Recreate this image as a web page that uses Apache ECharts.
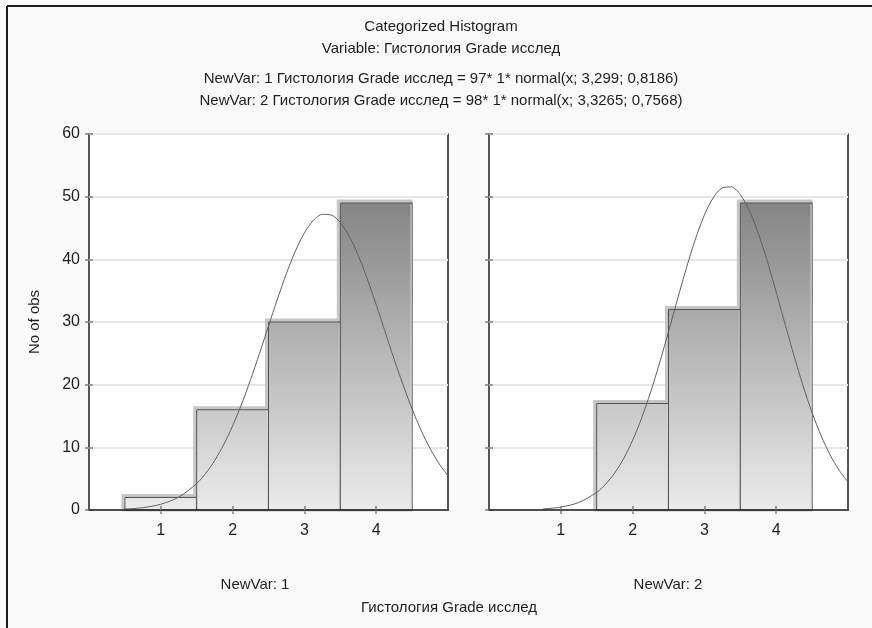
<!DOCTYPE html>
<html>
<head>
<meta charset="utf-8">
<script src="https://cdn.jsdelivr.net/npm/echarts@6/dist/echarts.min.js"></script>
<style>
html,body{margin:0;padding:0;background:#fafafa;}
#c{width:872px;height:628px;}
</style>
</head>
<body>
<div id="c"></div>
<script>
// ---- Data ----
const categories = [1, 2, 3, 4];
const countsVar1 = [2, 16, 30, 49];
const countsVar2 = [0, 17, 32, 49];
const yTicks = [0, 10, 20, 30, 40, 50, 60];
// fitted normal curves (x positions and heights)
const curveX1 = [0.5, 0.75, 1, 1.25, 1.5, 1.625, 1.75, 1.875, 2, 2.125, 2.25, 2.375, 2.5, 2.625, 2.75, 2.875, 3, 3.125, 3.25, 3.375, 3.5, 3.625, 3.75, 3.875, 4, 4.125, 4.25, 4.375, 4.5, 4.625, 4.75, 4.875, 5];
const curveY1 = [0.14, 0.37, 0.92, 2.06, 4.22, 5.84, 7.89, 10.41, 13.42, 16.9, 20.8, 25.0, 29.36, 33.68, 37.75, 41.33, 44.22, 46.22, 47.18, 47.07, 45.87, 43.67, 40.61, 36.9, 32.76, 28.41, 24.07, 19.93, 16.11, 12.73, 9.83, 7.41, 5.46];
const curveX2 = [0.75, 1, 1.25, 1.5, 1.625, 1.75, 1.875, 2, 2.125, 2.25, 2.375, 2.5, 2.625, 2.75, 2.875, 3, 3.125, 3.25, 3.375, 3.5, 3.625, 3.75, 3.875, 4, 4.125, 4.25, 4.375, 4.5, 4.625, 4.75, 4.875, 5];
const curveY2 = [0.16, 0.46, 1.2, 2.81, 4.13, 5.9, 8.21, 11.12, 14.65, 18.78, 23.44, 28.45, 33.62, 38.65, 43.24, 47.07, 49.86, 51.4, 51.55, 50.32, 47.79, 44.17, 39.73, 34.77, 29.61, 24.54, 19.79, 15.53, 11.86, 8.81, 6.37, 4.48];
const titleLines = [
  'Categorized Histogram',
  'Variable: Гистология Grade исслед',
  'NewVar: 1 Гистология Grade исслед = 97* 1* normal(x; 3,299; 0,8186)',
  'NewVar: 2 Гистология Grade исслед = 98* 1* normal(x; 3,3265; 0,7568)'
];
const panelNames = ['NewVar: 1', 'NewVar: 2'];
const xAxisTitle = 'Гистология Grade исслед';
const yAxisTitle = 'No of obs';

// ---- Chart ----
const FONT = '"Liberation Sans", Arial, sans-serif';
const chart = echarts.init(document.getElementById('c'), null, {renderer: 'canvas'});

function barPairs(vals) { return categories.map((c, i) => [c, vals[i]]); }
function curvePairs(xs, ys) { return xs.map((x, i) => [x, ys[i]]); }

function haloItem(params, api) {
  const x = api.value(0), y = api.value(1);
  if (!y) return null;
  const p0 = api.coord([x - 0.5, y]);
  const p1 = api.coord([x + 0.5, 0]);
  return {
    type: 'rect',
    shape: {x: p0[0] - 2, y: p0[1] - 2, width: p1[0] - p0[0] + 1, height: p1[1] - p0[1] + 2},
    style: {fill: 'none', stroke: '#c6c6c6', lineWidth: 3}
  };
}
function barItem(params, api) {
  const x = api.value(0), y = api.value(1);
  if (!y) return null;
  const p0 = api.coord([x - 0.5, y]);
  const p1 = api.coord([x + 0.5, 0]);
  const top = api.coord([0, 60])[1];
  const bot = api.coord([0, 0])[1];
  const fill = new echarts.graphic.LinearGradient(0, top, 0, bot,
    [{offset: 0, color: '#6e6e6e'}, {offset: 1, color: '#ebebeb'}], true);
  return {
    type: 'group',
    children: [
      {type: 'rect', shape: {x: p0[0], y: p0[1], width: p1[0] - p0[0], height: p1[1] - p0[1]},
       style: {fill: fill, stroke: '#505050', lineWidth: 1}},
      {type: 'line', shape: {x1: p1[0] - 1, y1: p0[1] + 1, x2: p1[0] - 1, y2: p1[1]},
       style: {stroke: '#d8d8d8', lineWidth: 1}}
    ]
  };
}

const grids = [
  {left: 89, top: 134, width: 359, height: 376},
  {left: 489, top: 134, width: 359, height: 376}
].map(g => Object.assign(g, {show: true, backgroundColor: '#ffffff', borderColor: '#1e1e1e', borderWidth: 1.5}));

const xAxes = [], yAxes = [];
[0, 1].forEach(gi => {
  xAxes.push({
    type: 'value', gridIndex: gi, min: 0, max: 5, interval: 1, position: 'bottom', z: 5,
    axisLine: {show: true, lineStyle: {color: '#1e1e1e', width: 1.5}},
    axisTick: {show: true, inside: true, length: 4, lineStyle: {color: '#808080', width: 1.5},
      customValues: categories},
    axisLabel: {show: true, margin: 13, color: '#1e1e1e', fontFamily: FONT, fontSize: 16,
      formatter: v => categories.indexOf(v) >= 0 ? String(v) : ''},
    splitLine: {show: false}
  });
  xAxes.push({
    type: 'value', gridIndex: gi, min: 0, max: 5, interval: 1, position: 'top',
    axisLine: {show: false},
    axisTick: {show: true, inside: true, length: 4, lineStyle: {color: '#808080', width: 1.5},
      customValues: categories},
    axisLabel: {show: false}, splitLine: {show: false}
  });
  yAxes.push({
    type: 'value', gridIndex: gi, min: yTicks[0], max: yTicks[yTicks.length - 1], interval: 10, position: 'left',
    axisLine: {show: false},
    axisTick: {show: true, inside: true, length: 4, lineStyle: {color: '#808080', width: 1.5}},
    axisLabel: {show: gi === 0, margin: 9, color: '#1e1e1e', fontFamily: FONT, fontSize: 16},
    splitLine: {show: true, lineStyle: {color: '#e6e6e6', width: 2}}
  });
  yAxes.push({
    type: 'value', gridIndex: gi, min: yTicks[0], max: yTicks[yTicks.length - 1], interval: 10, position: 'right', z: 5,
    axisLine: {show: false},
    axisTick: {show: true, inside: true, length: 4, lineStyle: {color: '#808080', width: 1.5}},
    axisLabel: {show: false}, splitLine: {show: false}
  });
});

const series = [];
[[countsVar1, curveX1, curveY1], [countsVar2, curveX2, curveY2]].forEach((d, gi) => {
  const xi = gi * 2, yi = gi * 2;
  series.push({type: 'custom', xAxisIndex: xi, yAxisIndex: yi, z: 2, renderItem: haloItem,
    data: barPairs(d[0]), silent: true, clip: false});
  series.push({type: 'custom', xAxisIndex: xi, yAxisIndex: yi, z: 3, renderItem: barItem,
    data: barPairs(d[0]), silent: true, clip: false});
  series.push({type: 'line', xAxisIndex: xi, yAxisIndex: yi, z: 4, smooth: 0.3, showSymbol: false,
    lineStyle: {color: '#606060', width: 1}, data: curvePairs(d[1], d[2]), silent: true});
});

const textStyleBase = {fontFamily: FONT, fontSize: 15, fill: '#1e1e1e'};
const graphics = [
  {type: 'line', shape: {x1: 7, y1: 6, x2: 872, y2: 6}, style: {stroke: '#1e1e1e', lineWidth: 2}},
  {type: 'line', shape: {x1: 7, y1: 6, x2: 7, y2: 628}, style: {stroke: '#1e1e1e', lineWidth: 2}}
];
const titleY = [27, 49, 79, 101];
titleLines.forEach((t, i) => graphics.push({type: 'text', x: 441, y: titleY[i],
  style: Object.assign({text: t, align: 'center', verticalAlign: 'middle'}, textStyleBase)}));
graphics.push({type: 'text', x: 255, y: 585, style: Object.assign({text: panelNames[0], align: 'center', verticalAlign: 'middle'}, textStyleBase)});
graphics.push({type: 'text', x: 668, y: 585, style: Object.assign({text: panelNames[1], align: 'center', verticalAlign: 'middle'}, textStyleBase)});
graphics.push({type: 'text', x: 449, y: 608, style: Object.assign({text: xAxisTitle, align: 'center', verticalAlign: 'middle'}, textStyleBase)});
graphics.push({type: 'text', x: 35, y: 322, rotation: Math.PI / 2,
  style: Object.assign({text: yAxisTitle, align: 'center', verticalAlign: 'middle'}, textStyleBase)});

chart.setOption({
  animation: false,
  backgroundColor: '#fafafa',
  grid: grids,
  xAxis: xAxes,
  yAxis: yAxes,
  series: series,
  graphic: graphics
});
</script>
</body>
</html>
